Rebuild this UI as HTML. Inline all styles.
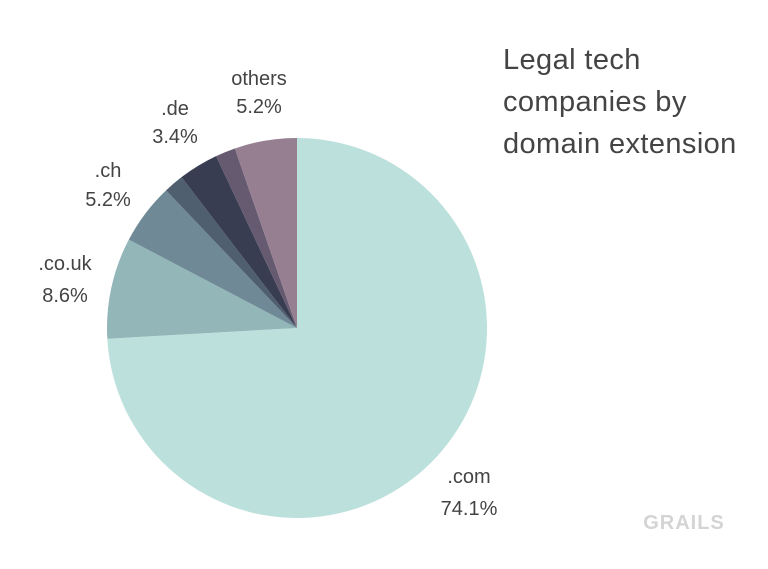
<!DOCTYPE html>
<html><head><meta charset="utf-8"><style>
html,body{margin:0;padding:0;background:#fff;width:768px;height:569px;overflow:hidden}
text{font-family:"Liberation Sans",sans-serif;fill:#444}
</style></head><body>
<svg id="s" width="768" height="569" viewBox="0 0 768 569" xmlns="http://www.w3.org/2000/svg">
<g id="pie"></g>
<g font-size="20" text-anchor="middle">
<text x="259" y="85">others</text><text x="259" y="113">5.2%</text>
<text x="175" y="115">.de</text><text x="175" y="143">3.4%</text>
<text x="108" y="177">.ch</text><text x="108" y="206">5.2%</text>
<text x="65" y="270">.co.uk</text><text x="65" y="302">8.6%</text>
<text x="469" y="483">.com</text><text x="469" y="515">74.1%</text>
</g>
<g font-size="29" style="letter-spacing:0.4px">
<text x="503" y="69">Legal tech</text>
<text x="503" y="111">companies by</text>
<text x="503" y="153">domain extension</text>
</g>
<text x="684" y="529" font-size="20" font-weight="bold" text-anchor="middle" style="fill:#d4d4d4;letter-spacing:1px">GRAILS</text>
</svg>
<script>
var cx=297,cy=328,r=190;
var d=[[74.1,"#bce0dc"],[8.6,"#93b6b9"],[5.2,"#6f8a96"],[1.7,"#4f5f70"],[3.4,"#383d52"],[1.7,"#655a6f"],[5.3,"#967f91"]];
var a=0,g=document.getElementById("pie"),h="";
d.forEach(function(s){var a2=a+s[0]/100*2*Math.PI;
var x1=cx+r*Math.sin(a),y1=cy-r*Math.cos(a),x2=cx+r*Math.sin(a2),y2=cy-r*Math.cos(a2);
h+='<path d="M'+cx+','+cy+'L'+x1+','+y1+'A'+r+','+r+' 0 '+(a2-a>Math.PI?1:0)+' 1 '+x2+','+y2+'Z" fill="'+s[1]+'"/>';a=a2;});
g.innerHTML=h;
</script>
</body></html>
